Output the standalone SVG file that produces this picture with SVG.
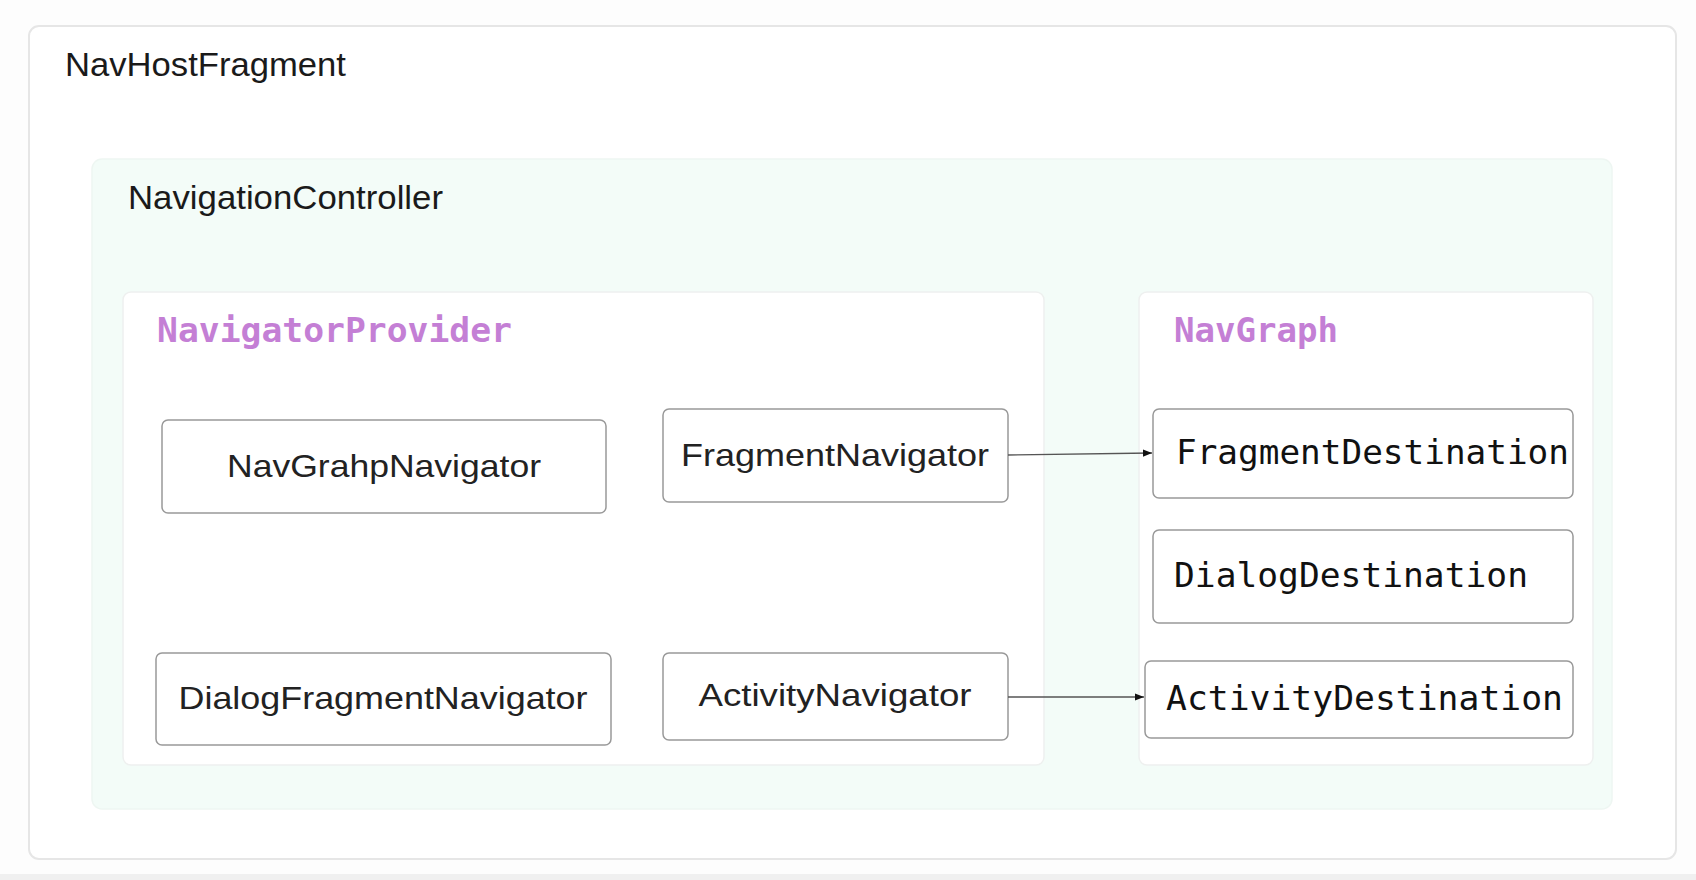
<svg xmlns="http://www.w3.org/2000/svg" width="1696" height="880" viewBox="0 0 1696 880">
<defs>
<style>
.bg{fill:#fdfdfd}
.host{fill:#ffffff;stroke:#e6e6e6;stroke-width:2}
.ctrl{fill:#f3fcf8;stroke:#eef6f2;stroke-width:1.5}
.panel{fill:#ffffff;stroke:#eef0ef;stroke-width:1.5}
.node{fill:#ffffff;stroke:#999999;stroke-width:1.5}
.title{font-family:"Liberation Sans",Arial,sans-serif;font-size:34px;fill:#1a1a1a}
.ptitle{font-family:"DejaVu Sans Mono",monospace;font-weight:bold;font-size:34.5px;fill:#c47fd5}
.lbl{font-family:"Liberation Sans",Arial,sans-serif;font-size:32px;fill:#222;text-anchor:middle;dominant-baseline:central}
.mono{font-family:"DejaVu Sans Mono",monospace;font-size:34px;fill:#111;dominant-baseline:central}
.edge{stroke:#555;stroke-width:1.3;fill:none}
</style>
<marker id="ah" viewBox="0 0 10 10" refX="10" refY="5" markerWidth="9" markerHeight="9" markerUnits="userSpaceOnUse" orient="auto">
<path d="M0,1 L10,5 L0,9 Z" fill="#111"/>
</marker>
</defs>
<rect class="bg" x="0" y="0" width="1696" height="880"/>
<rect x="0" y="874" width="1696" height="6" fill="#f0f0f0"/>
<g id="NavHostFragment">
<rect class="host" x="29" y="26" width="1647" height="833" rx="10"/>
<text class="title" x="65" y="76" textLength="281" lengthAdjust="spacingAndGlyphs">NavHostFragment</text>
</g>
<g id="NavigationController">
<rect class="ctrl" x="92" y="159" width="1520" height="650" rx="10"/>
<text class="title" x="128" y="209" textLength="315" lengthAdjust="spacingAndGlyphs">NavigationController</text>
</g>
<g id="NavigatorProvider">
<rect class="panel" x="123" y="292" width="921" height="473" rx="8"/>
<text class="ptitle" x="157" y="342" textLength="355" lengthAdjust="spacingAndGlyphs">NavigatorProvider</text>
</g>
<g id="NavGraph">
<rect class="panel" x="1139" y="292" width="454" height="473" rx="8"/>
<text class="ptitle" x="1174" y="342" textLength="164" lengthAdjust="spacingAndGlyphs">NavGraph</text>
</g>
<g id="NavGrahpNavigator">
<rect class="node" x="162" y="420" width="444" height="93" rx="6"/>
<text class="lbl" x="384" y="466" textLength="314" lengthAdjust="spacingAndGlyphs">NavGrahpNavigator</text>
</g>
<g id="FragmentNavigator">
<rect class="node" x="663" y="409" width="345" height="93" rx="6"/>
<text class="lbl" x="835" y="455" textLength="308" lengthAdjust="spacingAndGlyphs">FragmentNavigator</text>
</g>
<g id="DialogFragmentNavigator">
<rect class="node" x="156" y="653" width="455" height="92" rx="6"/>
<text class="lbl" x="383" y="698" textLength="409" lengthAdjust="spacingAndGlyphs">DialogFragmentNavigator</text>
</g>
<g id="ActivityNavigator">
<rect class="node" x="663" y="653" width="345" height="87" rx="6"/>
<text class="lbl" x="835" y="695" textLength="273" lengthAdjust="spacingAndGlyphs">ActivityNavigator</text>
</g>
<g id="FragmentDestination">
<rect class="node" x="1153" y="409" width="420" height="89" rx="6"/>
<text class="mono" x="1176" y="452" textLength="393" lengthAdjust="spacingAndGlyphs">FragmentDestination</text>
</g>
<g id="DialogDestination">
<rect class="node" x="1153" y="530" width="420" height="93" rx="6"/>
<text class="mono" x="1174" y="575" textLength="354" lengthAdjust="spacingAndGlyphs">DialogDestination</text>
</g>
<g id="ActivityDestination">
<rect class="node" x="1145" y="661" width="428" height="77" rx="6"/>
<text class="mono" x="1166" y="698" textLength="397" lengthAdjust="spacingAndGlyphs">ActivityDestination</text>
</g>
<g id="connectors">
<path class="edge" d="M1008,455 L1152,453" marker-end="url(#ah)"/>
<path class="edge" d="M1008,697 L1144,697" marker-end="url(#ah)"/>
</g>
</svg>
